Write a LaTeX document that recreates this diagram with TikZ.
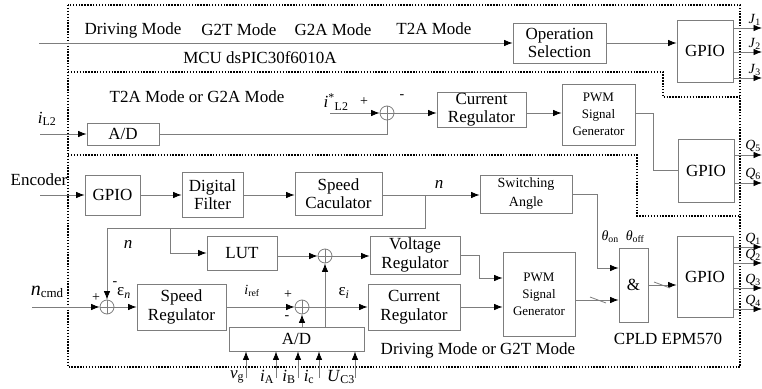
\documentclass[tikz,border=0pt]{standalone}
\usepackage{fontspec}
\setmainfont{Liberation Serif}
\usetikzlibrary{arrows.meta}
\definecolor{linegray}{RGB}{125,125,125}
\begin{document}
\begin{tikzpicture}[x=1pt,y=-1pt,
  box/.style={draw=linegray, line width=0.8pt, align=center, inner sep=0pt, fill=white,
    font=\fontsize{17}{18.5}\selectfont},
  pwmbox/.style={box, font=\fontsize{13}{17}\selectfont},
  sumc/.style={circle, draw=linegray, line width=0.8pt, minimum size=14pt, inner sep=0pt,
    path picture={\draw[linegray, line width=0.7pt]
      (path picture bounding box.north) -- (path picture bounding box.south)
      (path picture bounding box.west) -- (path picture bounding box.east);}},
  conn/.style={draw=linegray, line width=0.8pt},
  arr/.style={conn, -{Latex[length=8.5pt,width=6.5pt,color=black]}},
  dotb/.style={draw=black, line width=1.6pt, dash pattern=on 1.4pt off 1.5pt},
  lab/.style={inner sep=0pt, font=\fontsize{17}{18.5}\selectfont},
  sml/.style={inner sep=0pt, font=\fontsize{14}{16}\selectfont},
  sign/.style={inner sep=0pt, font=\fontsize{14}{16}\selectfont},
]
\useasboundingbox (0,0) rectangle (762,388);

% dotted boundaries
\draw[dotb] (68,5) rectangle (740,367);
\draw[dotb] (68,72) -- (663,72) -- (663,97) -- (740,97);
\draw[dotb] (68,155) -- (637,155) -- (637,216) -- (740,216);

% ---------- top section ----------
\node[lab] (tdm) at (133,30) {Driving Mode};
\node[lab] (tg2t) at (239,30) {G2T Mode};
\node[lab] (tg2a) at (333,30) {G2A Mode};
\node[lab] (tt2a) at (434,29) {T2A Mode};
\node[lab] (tmcu) at (260,58) {MCU dsPIC30f6010A};

\node[box, minimum width=93, minimum height=40] (opsel) at (559.5,43) {Operation\\Selection};
\node[box, minimum width=56, minimum height=62] (gpio1) at (705,51) {GPIO};

\coordinate (in1) at (39,43);
\draw[arr] (in1) -- (opsel.west);
\draw[arr] (opsel.east) -- (opsel.east -| gpio1.west);
\foreach \y/\k in {28/1,52/2,78/3} {
  \coordinate (J\k) at (762,\y);
  \draw[arr] (J\k -| gpio1.east) -- (J\k);
  \node[sml, anchor=south east] (LJ\k) at (761,\y-2) {\textit{J}\textsubscript{\k}};
}

% ---------- T2A / G2A section ----------
\node[lab] (tt2ag2a) at (197,97) {T2A Mode or G2A Mode};
\node[lab] (liL2) at (47,119) {\textit{i}\textsubscript{L2}};
\node[box, minimum width=72, minimum height=22] (ad1) at (123,134) {A/D};
\node[sumc] (s0) at (387,113) {};
\node[box, minimum width=89, minimum height=35] (curreg1) at (481.5,109.5) {Current\\Regulator};
\node[pwmbox, minimum width=73, minimum height=61] (pwm1) at (598.5,114.5) {PWM\\Signal\\Generator};
\node[box, minimum width=56, minimum height=63] (gpio2) at (706,170.5) {GPIO};

\node[lab] (listar) at (336,102) {\textit{i}\textsuperscript{*}\textsubscript{L2}};
\node[sign] (p0) at (364,102) {+};
\node[sign] (m0) at (402,97) {-};

\coordinate (iL2in) at (40,134);
\draw[arr] (iL2in) -- (ad1.west);
\draw[conn] (ad1.east) -- (s0 |- ad1.east) -- (s0.south);
\coordinate (istar) at (330,113);
\draw[arr] (istar) -- (s0.west);
\draw[arr] (s0.east) -- (s0.east -| curreg1.west);
\draw[arr] (curreg1.east |- s0) -- (pwm1.west |- s0);
\coordinate (pk) at (653,113);
\draw[conn] (pwm1.east |- pk) -- (pk) |- (gpio2.west);
\foreach \y/\k in {155/5,183/6} {
  \coordinate (Q\k) at (762,\y);
  \draw[arr] (Q\k -| gpio2.east) -- (Q\k);
  \node[sml, anchor=south east] (LQ\k) at (761,\y-3) {\textit{Q}\textsubscript{\k}};
}

% ---------- Driving / G2T section ----------
\node[lab] (lenc) at (39,180) {Encoder};
\node[box, minimum width=55, minimum height=40] (gpio3) at (112.5,195) {GPIO};
\node[box, minimum width=61, minimum height=45] (filt) at (212.5,194.5) {Digital\\Filter};
\node[box, minimum width=87, minimum height=43] (spcalc) at (338.5,193.5) {Speed\\Caculator};
\node[pwmbox, font=\fontsize{14}{19}\selectfont, minimum width=92, minimum height=38] (swang) at (526,194) {Switching\\Angle};
\node[box, minimum width=70, minimum height=34] (lut) at (242,253) {LUT};
\node[box, minimum width=90, minimum height=38] (vreg) at (415,255) {Voltage\\Regulator};
\node[box, minimum width=89, minimum height=46] (spreg) at (181.5,307) {Speed\\Regulator};
\node[box, minimum width=92, minimum height=46] (creg2) at (414,307) {Current\\Regulator};
\node[box, minimum width=135, minimum height=24] (ad2) at (296.5,339) {A/D};
\node[pwmbox, minimum width=72, minimum height=84] (pwm2) at (539,294) {PWM\\Signal\\Generator};
\node[box, minimum width=29, minimum height=74] (andb) at (633.5,285) {\&};
\node[box, minimum width=56, minimum height=81] (gpio4) at (705,276.5) {GPIO};

\node[sumc] (s1) at (107,307) {};
\node[sumc] (s2) at (325,256) {};
\node[sumc] (s3) at (302,307) {};

\node[lab] (ln1) at (439,184) {\textit{n}};
\node[lab] (ln2) at (128,244) {\textit{n}};
\node[lab, font=\fontsize{20}{21}\selectfont] (lncmd) at (47,292) {\textit{n}\fontsize{13}{14}\selectfont\raisebox{-2pt}{cmd}};
\node[sign] (p1) at (96,298) {+};
\node[sign] (m1) at (115,284) {-};
\node[lab] (leps) at (124,293) {ε\textsubscript{\textit{n}}};
\node[sml] (liref) at (252,291) {\textit{i}\textsubscript{ref}};
\node[sign] (p3) at (288,295) {+};
\node[sign] (m3) at (287,318) {-};
\node[lab] (lepsi) at (344,293) {ε\textsubscript{\textit{i}}};
\node[sml] (ltheta) at (623,237) {\textit{θ}\textsubscript{on}\ \ \textit{θ}\textsubscript{off}};
\node[lab] (ldrv) at (478,350) {Driving Mode or G2T Mode};
\node[lab] (lcpld) at (668,339) {CPLD EPM570};

\coordinate (enc) at (40,195);
\draw[arr] (enc) -- (gpio3.west);
\draw[arr] (gpio3.east) -- (gpio3.east -| filt.west);
\draw[arr] (filt.east |- gpio3) -- (spcalc.west |- gpio3);
\draw[arr] (spcalc.east |- gpio3) -- (swang.west |- gpio3);
\coordinate (br1) at (425,195);
\coordinate (br2) at (425,228);
\coordinate (br3) at (170,228);
\draw[arr] (br1) -- (br2) -| (s1.north);
\draw[arr] (br3) |- (lut.west);
\draw[arr] (lut.east |- s2) -- (s2.west);
\draw[arr] (s2.east) -- (s2.east -| vreg.west);
\coordinate (ncmd) at (32,307);
\draw[arr] (ncmd) -- (s1.west);
\draw[arr] (s1.east) -- (s1.east -| spreg.west);
\draw[arr] (spreg.east |- s3) -- (s3.west);
\draw[arr] (s3.east) -- (s3.east -| creg2.west);
\draw[arr] (s3 |- ad2.north) -- (s3.south);
\draw[arr] (s2 |- ad2.north) -- (s2.south);

\foreach \x/\t/\lx in {246/{\textit{v}\textsubscript{g}}/237, 276/{\textit{i}\textsubscript{A}}/267, 298/{\textit{i}\textsubscript{B}}/289, 319/{\textit{i}\textsubscript{c}}/309, 355/{\textit{U}\textsubscript{C3}}/341} {
  \coordinate (in\x) at (\x,378);
  \draw[arr] (in\x) -- (in\x |- ad2.south);
  \node[lab] (lin\x) at (\lx,377) {\t};
}

\coordinate (vp) at (479,278);
\draw[arr] (vreg.east) -| (vp) -- (vp -| pwm2.west);
\draw[arr] (creg2.east) -- (creg2.east -| pwm2.west);
\coordinate (pa) at (575,300);
\draw[arr] (pa) -- (pa -| andb.west);
\draw[conn] (598,300) ++(-8,-3) -- ++(16,6);
\coordinate (sa) at (597,268);
\draw[arr] (swang.east) -| (sa) -- (sa -| andb.west);
\draw[arr] (andb.east) -- (andb.east -| gpio4.west);
\draw[conn] (662,285) ++(-8,-3) -- ++(16,6);
\foreach \y/\k in {247/1,263/2,288/3,309/4} {
  \coordinate (QQ\k) at (762,\y);
  \draw[arr] (QQ\k -| gpio4.east) -- (QQ\k);
  \node[sml, anchor=south east] (LQQ\k) at (761,\y-2) {\textit{Q}\textsubscript{\k}};
}
\end{tikzpicture}
\end{document}
